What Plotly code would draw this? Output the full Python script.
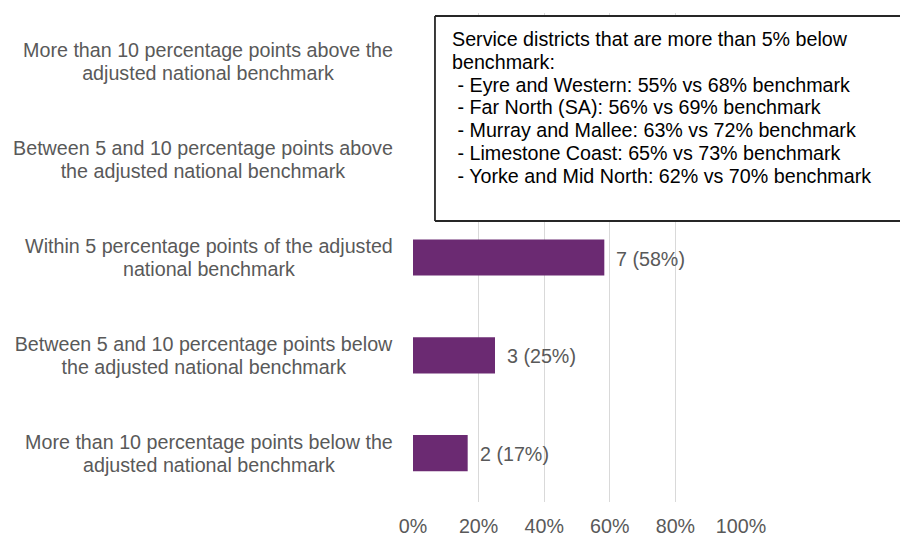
import plotly.graph_objects as go

categories = [
    "More than 10 percentage points below the adjusted national benchmark",
    "Between 5 and 10 percentage points below the adjusted national benchmark",
    "Within 5 percentage points of the adjusted national benchmark",
    "Between 5 and 10 percentage points above the adjusted national benchmark",
    "More than 10 percentage points above the adjusted national benchmark",
]
label_lines = [
    ["More than 10 percentage points below the", "adjusted national benchmark"],
    ["Between 5 and 10 percentage points below", "the adjusted national benchmark"],
    ["Within 5 percentage points of the adjusted", "national benchmark"],
    ["Between 5 and 10 percentage points above", "the adjusted national benchmark"],
    ["More than 10 percentage points above the", "adjusted national benchmark"],
]
counts = [2, 3, 7, 0, 0]
percents = [16.67, 25.0, 58.33, 0, 0]
x_ticks = [0, 20, 40, 60, 80, 100]
x_tick_labels = ["0%", "20%", "40%", "60%", "80%", "100%"]
box_lines = [
    "Service districts that are more than 5% below",
    "benchmark:",
    " - Eyre and Western: 55% vs 68% benchmark",
    " - Far North (SA): 56% vs 69% benchmark",
    " - Murray and Mallee: 63% vs 72% benchmark",
    " - Limestone Coast: 65% vs 73% benchmark",
    " - Yorke and Mid North: 62% vs 70% benchmark",
]

FONT = "Liberation Sans, Arial, sans-serif"
GRAY = "#595959"
PURPLE = "#6B2A72"
LABEL_SIZE = 19.7
BOX_SIZE = 19.7

# Arial / Liberation Sans advance widths (1/1000 em) used to centre two-line labels
_W = {" ": 278, "M": 833, "B": 667, "W": 944, "m": 833, "w": 722, "i": 222, "j": 222,
      "l": 222, "f": 278, "t": 278, "r": 333, "c": 500, "k": 500, "s": 500, "v": 500,
      "x": 500, "y": 500, "z": 500}


def text_width(s, size):
    return sum(_W.get(ch, 556) for ch in s) * size / 1000.0


fig = go.Figure()
fig.add_trace(go.Bar(
    y=categories, x=percents, orientation="h",
    marker=dict(color=PURPLE, line=dict(width=0)),
    width=0.37, hoverinfo="skip",
))

for cat, lines, c, p in zip(categories, label_lines, counts, percents):
    w = max(text_width(l, LABEL_SIZE) for l in lines) + 4
    for k, line in enumerate(lines):
        fig.add_annotation(x=0, y=cat, xref="paper", yref="y", text=line,
                           showarrow=False, xanchor="right", align="center",
                           width=w, xshift=-16, yshift=11.5 if k == 0 else -11.5,
                           font=dict(family=FONT, size=LABEL_SIZE, color=GRAY))
    if c > 0:
        fig.add_annotation(x=p, y=cat, xref="x", yref="y",
                           text=f"{c} ({round(p)}%)", showarrow=False,
                           xanchor="left", xshift=10, yshift=-1,
                           font=dict(family=FONT, size=LABEL_SIZE, color=GRAY))

# text box running off the right edge of the chart: white fill + top/left/bottom border
BX0, BX1, BY0, BY1 = 0.067, 3.0, 0.5746, 0.9939
BORDER = dict(color="#262626", width=1.8)
fig.add_shape(type="rect", xref="paper", yref="paper", x0=BX0, x1=BX1, y0=BY0, y1=BY1,
              line=dict(width=0), fillcolor="white", layer="above")
for (xa, ya, xb, yb) in [(BX0, BY1, BX1, BY1), (BX0, BY0, BX1, BY0), (BX0, BY0, BX0, BY1)]:
    fig.add_shape(type="line", xref="paper", yref="paper", x0=xa, y0=ya, x1=xb, y1=yb,
                  line=BORDER, layer="above")
for k, line in enumerate(box_lines):
    txt = "\u00a0" + line[1:] if line.startswith(" ") else line
    fig.add_annotation(x=0, y=1, xref="paper", yref="paper", text=txt,
                       showarrow=False, xanchor="left", yanchor="middle", align="left",
                       xshift=37, yshift=-(26 + 22.8 * k),
                       font=dict(family=FONT, size=BOX_SIZE, color="#000000"))

fig.update_layout(
    width=908, height=535,
    margin=dict(l=405, r=175, t=5, b=41),
    plot_bgcolor="white", paper_bgcolor="white",
    showlegend=False,
    xaxis=dict(range=[0, 100], tickvals=x_ticks, ticktext=x_tick_labels,
               showgrid=True, gridcolor="#D9D9D9", gridwidth=1.3,
               zeroline=False, showline=False, ticks="", ticklabelstandoff=10,
               tickfont=dict(family=FONT, size=LABEL_SIZE, color=GRAY)),
    yaxis=dict(showticklabels=False, showgrid=False, zeroline=False,
               showline=False, ticks="", range=[-0.5, 4.5]),
)

fig.write_html("out.html")
